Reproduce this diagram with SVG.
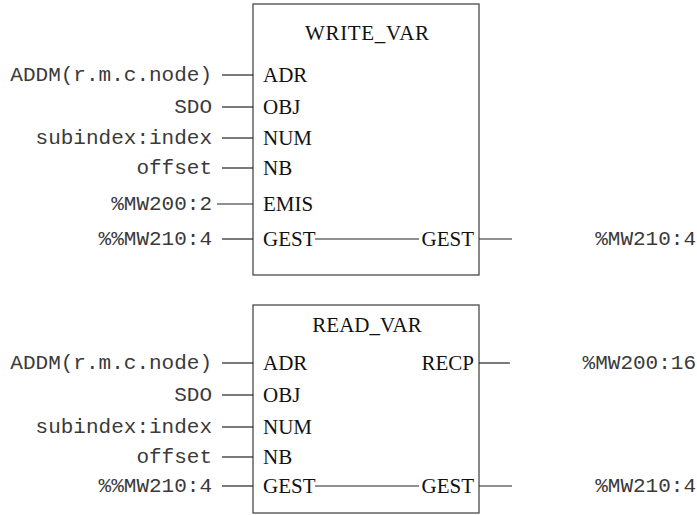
<svg xmlns="http://www.w3.org/2000/svg" width="697" height="515" viewBox="0 0 697 515">
  <style>
    .box { fill: #ffffff; stroke: #4a4a4a; stroke-width: 1.3; }
    .pin { font-family: "Liberation Serif", "Times New Roman", serif; font-size: 21px; fill: #111; }
    .title { font-family: "Liberation Serif", "Times New Roman", serif; font-size: 21px; fill: #111; text-anchor: middle; }
    .var { font-family: "Liberation Mono", "Courier New", monospace; font-size: 21px; fill: #3a3a3a; }
    .r { text-anchor: end; }
    .wire { stroke: #222; stroke-width: 1.2; fill: none; }
  </style>
  <rect width="697" height="515" fill="#ffffff"/>

  <g id="write_var">
    <rect class="box" x="253" y="4" width="226" height="271"/>
    <text class="title" x="367" y="40" textLength="124" lengthAdjust="spacing">WRITE_VAR</text>
    <text class="pin" x="263" y="82">ADR</text>
    <text class="pin" x="263" y="114">OBJ</text>
    <text class="pin" x="263" y="145">NUM</text>
    <text class="pin" x="263" y="175">NB</text>
    <text class="pin" x="263" y="211">EMIS</text>
    <text class="pin" x="263" y="246">GEST</text>
    <text class="pin r" x="474" y="246">GEST</text>
  </g>

  <g id="read_var">
    <rect class="box" x="253" y="305" width="226" height="208"/>
    <text class="title" x="367" y="332">READ_VAR</text>
    <text class="pin" x="263" y="370">ADR</text>
    <text class="pin" x="263" y="402">OBJ</text>
    <text class="pin" x="263" y="434">NUM</text>
    <text class="pin" x="263" y="464">NB</text>
    <text class="pin" x="263" y="493">GEST</text>
    <text class="pin r" x="474" y="370">RECP</text>
    <text class="pin r" x="474" y="493">GEST</text>
  </g>

  <g id="write_inputs">
    <text class="var r" x="212" y="81">ADDM(r.m.c.node)</text>
    <text class="var r" x="212" y="113">SDO</text>
    <text class="var r" x="212" y="144">subindex:index</text>
    <text class="var r" x="212" y="174">offset</text>
    <text class="var r" x="212" y="210">%MW200:2</text>
    <text class="var r" x="212" y="245">%%MW210:4</text>
  </g>
  <g id="write_outputs">
    <text class="var r" x="696" y="245">%MW210:4</text>
  </g>

  <g id="read_inputs">
    <text class="var r" x="212" y="369">ADDM(r.m.c.node)</text>
    <text class="var r" x="212" y="401">SDO</text>
    <text class="var r" x="212" y="433">subindex:index</text>
    <text class="var r" x="212" y="463">offset</text>
    <text class="var r" x="212" y="492">%%MW210:4</text>
  </g>
  <g id="read_outputs">
    <text class="var r" x="696" y="369">%MW200:16</text>
    <text class="var r" x="696" y="492">%MW210:4</text>
  </g>

  <g id="connectors">
    <line class="wire" x1="222" y1="75" x2="253" y2="75"/>
    <line class="wire" x1="222" y1="107" x2="253" y2="107"/>
    <line class="wire" x1="222" y1="138" x2="253" y2="138"/>
    <line class="wire" x1="222" y1="168" x2="253" y2="168"/>
    <line class="wire" x1="217" y1="204" x2="253" y2="204"/>
    <line class="wire" x1="222" y1="239" x2="253" y2="239"/>
    <line class="wire" x1="315" y1="239" x2="419" y2="239"/>
    <line class="wire" x1="479" y1="239" x2="512" y2="239"/>

    <line class="wire" x1="222" y1="363" x2="253" y2="363"/>
    <line class="wire" x1="222" y1="395" x2="253" y2="395"/>
    <line class="wire" x1="222" y1="427" x2="253" y2="427"/>
    <line class="wire" x1="222" y1="457" x2="253" y2="457"/>
    <line class="wire" x1="222" y1="486" x2="253" y2="486"/>
    <line class="wire" x1="315" y1="486" x2="419" y2="486"/>
    <line class="wire" x1="479" y1="363" x2="510" y2="363"/>
    <line class="wire" x1="479" y1="486" x2="512" y2="486"/>
  </g>
</svg>
